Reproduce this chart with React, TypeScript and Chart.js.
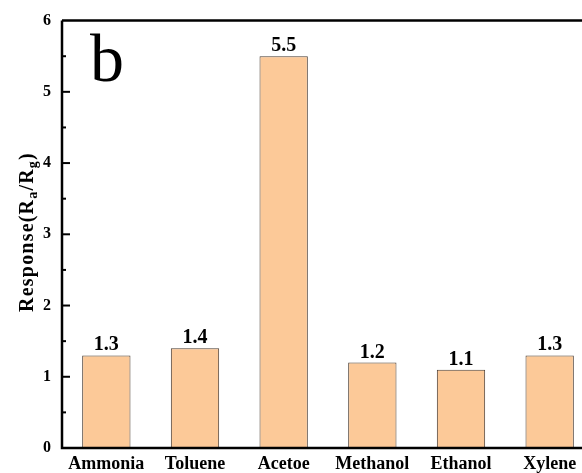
import React, { useEffect, useRef } from "react";
import { Chart, registerables } from "chart.js";

Chart.register(...registerables);

const categories = ["Ammonia", "Toluene", "Acetoe", "Methanol", "Ethanol", "Xylene"];
const responses = [1.3, 1.4, 5.5, 1.2, 1.1, 1.3];
const yTicks = [0, 1, 2, 3, 4, 5, 6];

const SERIF = "'Liberation Serif', 'Times New Roman', serif";

const decorations = {
  id: "decorations",
  afterDatasetsDraw(chart: any) {
    const { ctx, chartArea, scales } = chart;
    const y = scales.y;
    ctx.save();
    ctx.strokeStyle = "#000";
    ctx.lineCap = "butt";
    // frame: left, bottom, top
    ctx.lineWidth = 2.5;
    ctx.beginPath();
    ctx.moveTo(chartArea.left, chartArea.top);
    ctx.lineTo(chartArea.left, chartArea.bottom);
    ctx.lineTo(chartArea.right, chartArea.bottom);
    ctx.moveTo(chartArea.left, chartArea.top);
    ctx.lineTo(chartArea.right, chartArea.top);
    ctx.stroke();
    // inward ticks, major and minor
    ctx.lineWidth = 2;
    for (let v = 0.5; v < 6; v += 0.5) {
      const py = y.getPixelForValue(v);
      const major = Math.abs(v - Math.round(v)) < 1e-6;
      ctx.beginPath();
      ctx.moveTo(chartArea.left, py);
      ctx.lineTo(chartArea.left + (major ? 8 : 4), py);
      ctx.stroke();
    }
    // value labels above bars
    const meta = chart.getDatasetMeta(0);
    ctx.fillStyle = "#000";
    ctx.font = `bold 20px ${SERIF}`;
    ctx.textAlign = "center";
    ctx.textBaseline = "alphabetic";
    meta.data.forEach((bar: any, i: number) => {
      ctx.fillText(responses[i].toFixed(1), bar.x, bar.y - 5);
    });
    // panel letter
    ctx.font = `68px ${SERIF}`;
    ctx.textAlign = "left";
    ctx.fillText("b", 90, 81);
    // y-axis title with subscripts
    ctx.translate(22, 232);
    ctx.rotate(-Math.PI / 2);
    (ctx as any).letterSpacing = "1.2px";
    const big = `bold 20px ${SERIF}`;
    const small = `bold 14px ${SERIF}`;
    const parts: [string, string, number][] = [
      ["Response(R", big, 0],
      ["a", small, 5],
      ["/R", big, 0],
      ["g", small, 5],
      [")", big, 0],
    ];
    let total = 0;
    parts.forEach(([t, f]) => {
      ctx.font = f;
      total += ctx.measureText(t).width;
    });
    let x = -total / 2;
    ctx.textBaseline = "middle";
    parts.forEach(([t, f, dy]) => {
      ctx.font = f;
      ctx.fillText(t, x, 6 + dy);
      x += ctx.measureText(t).width;
    });
    ctx.restore();
  },
};

export default function App() {
  const ref = useRef<HTMLCanvasElement>(null);
  useEffect(() => {
    if (!ref.current) return;
    const chart = new Chart(ref.current, {
      type: "bar",
      data: {
        labels: categories,
        datasets: [
          {
            data: responses,
            backgroundColor: "#FCC998",
            borderColor: "#4a3d33",
            borderWidth: 1,
            barPercentage: 0.545,
            categoryPercentage: 1,
          },
        ],
      },
      options: {
        animation: false,
        responsive: false,
        maintainAspectRatio: false,
        layout: { padding: { top: 18, right: 6, left: 0, bottom: 0 } },
        plugins: { legend: { display: false }, tooltip: { enabled: false } },
        scales: {
          x: {
            grid: { display: false, drawTicks: false },
            border: { display: false },
            ticks: {
              color: "#000",
              padding: 6,
              font: { family: SERIF, weight: "bold", size: 18 },
              maxRotation: 0,
              autoSkip: false,
            },
            afterFit(axis: any) {
              axis.height = 25;
            },
          },
          y: {
            min: 0,
            max: 6,
            afterBuildTicks(axis: any) {
              axis.ticks = yTicks.map((v) => ({ value: v }));
            },
            grid: { display: false, drawTicks: false },
            border: { display: false },
            ticks: {
              color: "#000",
              padding: 11,
              font: { family: SERIF, weight: "bold", size: 16 },
            },
            afterFit(axis: any) {
              axis.width = 62;
            },
          },
        },
      },
      plugins: [decorations],
    });
    return () => chart.destroy();
  }, []);
  return (
    <div
      style={{
        position: "fixed",
        left: 0,
        top: 0,
        width: 582,
        height: 473,
        overflow: "hidden",
        background: "#fff",
      }}
    >
      <canvas ref={ref} width={600} height={473} style={{ display: "block" }} />
    </div>
  );
}
